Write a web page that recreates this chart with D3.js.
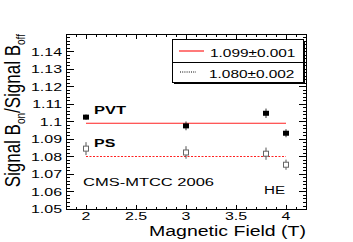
<!DOCTYPE html>
<html><head><meta charset="utf-8">
<script src="https://cdn.jsdelivr.net/npm/d3@7"></script>
<style>body{margin:0;background:#fff}svg{display:block}text{font-family:"Liberation Sans",Arial,sans-serif}</style>
</head><body><svg id="c" width="353" height="242"></svg>
<script>
const fields = [2, 3, 3.8, 4];
const pvtValues = [1.1025, 1.0975, 1.1047, 1.0933];
const pvtErrors = [0.0015, 0.0025, 0.0027, 0.0023];
const psValues = [1.0845, 1.0823, 1.0816, 1.0753];
const psErrors = [0.0037, 0.0036, 0.0035, 0.0029];
const fitPVT = 1.099, fitPS = 1.080;
const legendLabels = ["1.099\u00b10.001", "1.080\u00b10.002"];
const yTicks = [1.05,1.06,1.07,1.08,1.09,1.1,1.11,1.12,1.13,1.14];
const xTicks = [2,2.5,3,3.5,4];

const SX = 1.45; // horizontal stretch of text in the reference
const svg = d3.select("#c");
const L=66, R=306, T=34, B=209;
const x = d3.scaleLinear().domain([1.8,4.2]).range([L,R]);
const y = d3.scaleLinear().domain([1.05,1.15]).range([B,T]);

function txt(parent, tx, ty, s, size, anchor, weight, sx){
  return parent.append("text")
    .attr("transform",`translate(${tx},${ty}) scale(${sx||SX},1)`)
    .attr("text-anchor",anchor||"start").attr("font-size",size)
    .attr("font-weight",weight||"normal").text(s);
}

// frame
svg.append("rect").attr("x",L+0.5).attr("y",T+0.5).attr("width",R-L).attr("height",B-T)
  .attr("fill","none").attr("stroke","#000").attr("stroke-width",1);

// ticks
const g = svg.append("g").attr("stroke","#000").attr("stroke-width",1);
d3.range(1.05,1.1501,0.002).forEach(v=>{
  const major = Math.abs(Math.round(v*100)-v*100)<1e-6;
  const len = major?8:4;
  const yy = Math.round(y(v))+0.5;
  g.append("line").attr("x1",L).attr("x2",L+len).attr("y1",yy).attr("y2",yy);
  g.append("line").attr("x1",R+1).attr("x2",R+1-len).attr("y1",yy).attr("y2",yy);
});
d3.range(1.8,4.2001,0.1).forEach(v=>{
  const major = Math.abs(Math.round(v*2)-v*2)<1e-6;
  const len = major?5:3;
  const xx = Math.round(x(v))+0.5;
  g.append("line").attr("x1",xx).attr("x2",xx).attr("y1",B+1).attr("y2",B+1-len);
  g.append("line").attr("x1",xx).attr("x2",xx).attr("y1",T).attr("y2",T+len);
});

// tick labels
const yl = svg.append("g");
yTicks.forEach(d=>txt(yl, L-4, y(d)+4, String(+d.toFixed(2)), 11, "end"));
const xl = svg.append("g");
xTicks.forEach(d=>txt(xl, x(d), 220, String(d), 11, "middle"));

// axis titles
txt(svg, R, 236, "Magnetic Field (T)", 15, "end", "normal", 1.3);
const yt = svg.append("text").attr("transform","translate(20,34) scale(1.35,1) rotate(-90)")
  .attr("text-anchor","end").attr("font-size",17);
yt.append("tspan").text("Signal B");
yt.append("tspan").attr("font-size",10).attr("dy",4).text("on");
yt.append("tspan").attr("dy",-4).text("/Signal B");
yt.append("tspan").attr("font-size",10).attr("dy",4).text("off");

// fit lines
svg.append("line").attr("x1",x(2)).attr("x2",x(4)).attr("y1",y(fitPVT)).attr("y2",y(fitPVT))
  .attr("stroke","#ff2020").attr("stroke-width",1.2);
svg.append("line").attr("x1",x(2)).attr("x2",x(4)).attr("y1",y(fitPS)).attr("y2",y(fitPS))
  .attr("stroke","#ff2020").attr("stroke-width",1.2).attr("stroke-dasharray","2,1.5");

// error bars and markers
function errs(vals, es, col){
  svg.append("g").selectAll("line").data(fields).join("line")
    .attr("x1",d=>x(d)).attr("x2",d=>x(d))
    .attr("y1",(d,i)=>y(vals[i]-es[i])).attr("y2",(d,i)=>y(vals[i]+es[i]))
    .attr("stroke",col).attr("stroke-width",1);
}
errs(pvtValues,pvtErrors,"#333");
errs(psValues,psErrors,"#555");
svg.append("g").selectAll("rect").data(fields).join("rect")
  .attr("x",d=>x(d)-3).attr("y",(d,i)=>y(pvtValues[i])-2.5).attr("width",6).attr("height",5)
  .attr("fill","#000");
svg.append("g").selectAll("rect").data(fields).join("rect")
  .attr("x",d=>x(d)-2.5).attr("y",(d,i)=>y(psValues[i])-2.5).attr("width",5).attr("height",5)
  .attr("fill","#fff").attr("stroke","#666").attr("stroke-width",1);

// labels
txt(svg, 94, 113.5, "PVT", 11, "start", "bold", 1.5);
txt(svg, 94, 146.5, "PS", 11, "start", "bold", 1.45);
txt(svg, 83, 186, "CMS-MTCC 2006", 11, "start", "normal", 1.5);
txt(svg, 264, 193.5, "HE", 11, "start", "normal", 1.38);

// legend
const lx=172, ly=39, lw=131, lh=43;
svg.append("rect").attr("x",lx+2).attr("y",ly+2).attr("width",lw).attr("height",lh).attr("fill","#000");
svg.append("rect").attr("x",lx+0.5).attr("y",ly+0.5).attr("width",lw).attr("height",lh).attr("fill","#fff").attr("stroke","#000");
svg.append("line").attr("x1",lx).attr("x2",lx+lw).attr("y1",ly+23.5).attr("y2",ly+23.5).attr("stroke","#000");
svg.append("line").attr("x1",179).attr("x2",204).attr("y1",ly+12).attr("y2",ly+12).attr("stroke","#ff2020").attr("stroke-width",1.2);
svg.append("line").attr("x1",180).attr("x2",196).attr("y1",ly+33).attr("y2",ly+33).attr("stroke","#000").attr("stroke-dasharray","1,1.2");
txt(svg, 210, 57, legendLabels[0], 10, "start", "normal", 1.54);
txt(svg, 209, 77.5, legendLabels[1], 10, "start", "normal", 1.54);
</script></body></html>
